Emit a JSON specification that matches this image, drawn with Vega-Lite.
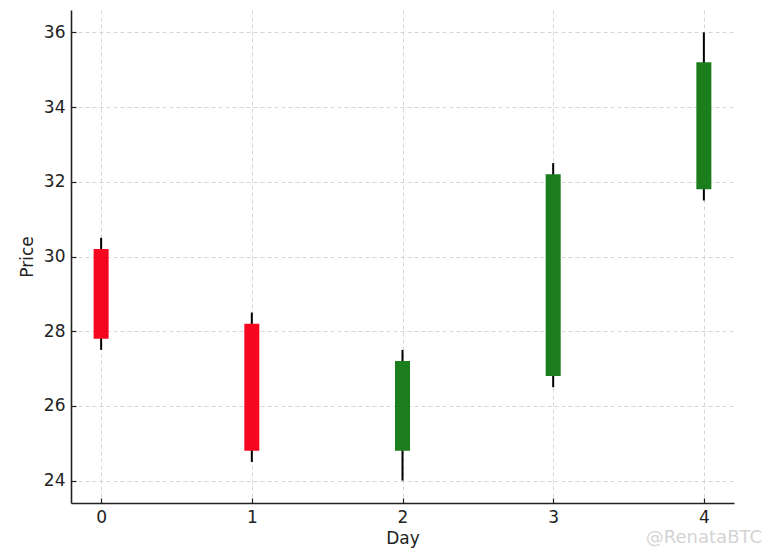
{
  "$schema": "https://vega.github.io/schema/vega-lite/v6.json",
  "autosize": "none",
  "width": 663,
  "height": 493,
  "padding": {"left": 71, "top": 10, "right": 31, "bottom": 51},
  "background": "white",
  "config": {
    "view": {"stroke": null},
    "font": "DejaVu Sans",
    "axis": {
      "labelFont": "DejaVu Sans",
      "titleFont": "DejaVu Sans",
      "labelFontSize": 17,
      "titleFontSize": 17,
      "titleFontWeight": "normal",
      "labelColor": "#222222",
      "titleColor": "#222222",
      "domainColor": "#222222",
      "domainWidth": 1.6,
      "tickColor": "#222222",
      "tickWidth": 1.2,
      "tickSize": -5,
      "labelPadding": 11,
      "gridColor": "#cccccc",
      "gridDash": [4, 3],
      "gridWidth": 0.8
    }
  },
  "title": {
    "text": "@RenataBTC",
    "orient": "bottom",
    "anchor": "end",
    "font": "DejaVu Sans",
    "fontSize": 18,
    "fontWeight": "normal",
    "color": "#d4d4d4",
    "offset": -17,
    "dx": 28
  },
  "data": {
    "values": [
      {"day": 0, "open": 30.2, "close": 27.8, "high": 30.5, "low": 27.5, "dir": "down"},
      {"day": 1, "open": 28.2, "close": 24.8, "high": 28.5, "low": 24.5, "dir": "down"},
      {"day": 2, "open": 24.8, "close": 27.2, "high": 27.5, "low": 24.0, "dir": "up"},
      {"day": 3, "open": 26.8, "close": 32.2, "high": 32.5, "low": 26.5, "dir": "up"},
      {"day": 4, "open": 31.8, "close": 35.2, "high": 36.0, "low": 31.5, "dir": "up"}
    ]
  },
  "encoding": {
    "x": {
      "field": "day",
      "type": "quantitative",
      "scale": {"domain": [-0.2, 4.2], "nice": false, "zero": false, "padding": 0},
      "axis": {"title": "Day", "values": [0, 1, 2, 3, 4], "format": "d", "grid": true, "titlePadding": 5}
    }
  },
  "layer": [
    {
      "mark": {"type": "rule", "color": "black", "strokeWidth": 2},
      "encoding": {
        "y": {
          "field": "low",
          "type": "quantitative",
          "scale": {"domain": [23.4, 36.6], "nice": false, "zero": false},
          "axis": {"title": "Price", "values": [24, 26, 28, 30, 32, 34, 36], "grid": true, "titlePadding": 7}
        },
        "y2": {"field": "high"}
      }
    },
    {
      "mark": {"type": "bar", "size": 15},
      "encoding": {
        "y": {"field": "open", "type": "quantitative"},
        "y2": {"field": "close"},
        "color": {
          "field": "dir",
          "type": "nominal",
          "scale": {"domain": ["down", "up"], "range": ["#f5081f", "#1c7d1c"]},
          "legend": null
        }
      }
    }
  ]
}
